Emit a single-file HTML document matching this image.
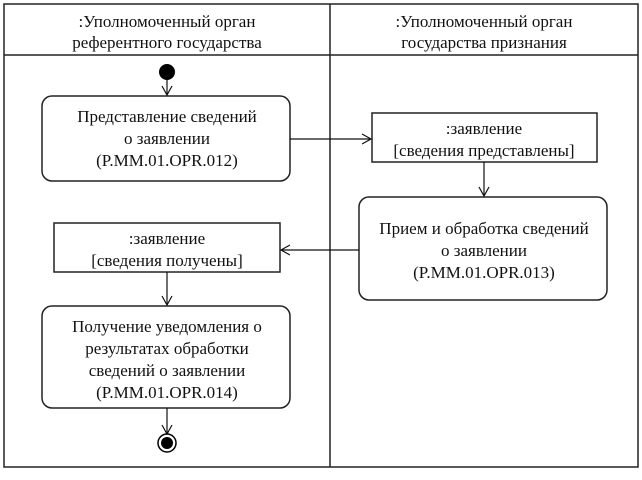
<!DOCTYPE html>
<html><head><meta charset="utf-8"><style>
html,body{margin:0;padding:0;background:#fff;}
svg text{font-family:"Liberation Serif","Noto Serif CJK SC",serif;font-size:17px;fill:#111;text-anchor:middle;}
</style></head><body>
<svg width="642" height="475" viewBox="0 0 642 475" xmlns="http://www.w3.org/2000/svg">
<defs><marker id="a" markerWidth="12" markerHeight="12" refX="10" refY="6" orient="auto" markerUnits="userSpaceOnUse"><path d="M1,1 L10,6 L1,11" fill="none" stroke="#111" stroke-width="1.2"/></marker></defs>
<g fill="none" stroke="#222" stroke-width="1.5">
<rect x="4" y="4" width="634" height="463"/>
<line x1="4" y1="55" x2="638" y2="55"/>
<line x1="330" y1="4" x2="330" y2="467"/>
<rect x="42" y="96" width="248" height="85" rx="10"/>
<rect x="372" y="113" width="225" height="49"/>
<rect x="359" y="197" width="248" height="103" rx="10"/>
<rect x="54" y="223" width="226" height="49"/>
<rect x="42" y="306" width="248" height="102" rx="10"/>
</g>
<g stroke="#111" stroke-width="1.2" fill="none">
<line x1="167" y1="80" x2="167" y2="95" marker-end="url(#a)"/>
<line x1="290" y1="139" x2="371" y2="139" marker-end="url(#a)"/>
<line x1="484" y1="162" x2="484" y2="196" marker-end="url(#a)"/>
<line x1="359" y1="250" x2="281" y2="250" marker-end="url(#a)"/>
<line x1="167" y1="272" x2="167" y2="305" marker-end="url(#a)"/>
<line x1="167" y1="408" x2="167" y2="434" marker-end="url(#a)"/>
</g>
<circle cx="167" cy="72" r="8" fill="#000"/>
<circle cx="167" cy="443" r="9" fill="#fff" stroke="#000" stroke-width="1.5"/>
<circle cx="167" cy="443" r="6" fill="#000"/>
<text x="167" y="27">:Уполномоченный орган</text>
<text x="167" y="48">референтного государства</text>
<text x="484" y="27">:Уполномоченный орган</text>
<text x="484" y="48">государства признания</text>
<text x="167" y="122">Представление сведений</text>
<text x="167" y="144">о заявлении</text>
<text x="167" y="166">(P.MM.01.OPR.012)</text>
<text x="484" y="134">:заявление</text>
<text x="484" y="156">[сведения представлены]</text>
<text x="484" y="234">Прием и обработка сведений</text>
<text x="484" y="256">о заявлении</text>
<text x="484" y="278">(P.MM.01.OPR.013)</text>
<text x="167" y="244">:заявление</text>
<text x="167" y="266">[сведения получены]</text>
<text x="167" y="332">Получение уведомления о</text>
<text x="167" y="354">результатах обработки</text>
<text x="167" y="376">сведений о заявлении</text>
<text x="167" y="398">(P.MM.01.OPR.014)</text>
</svg>
</body></html>
